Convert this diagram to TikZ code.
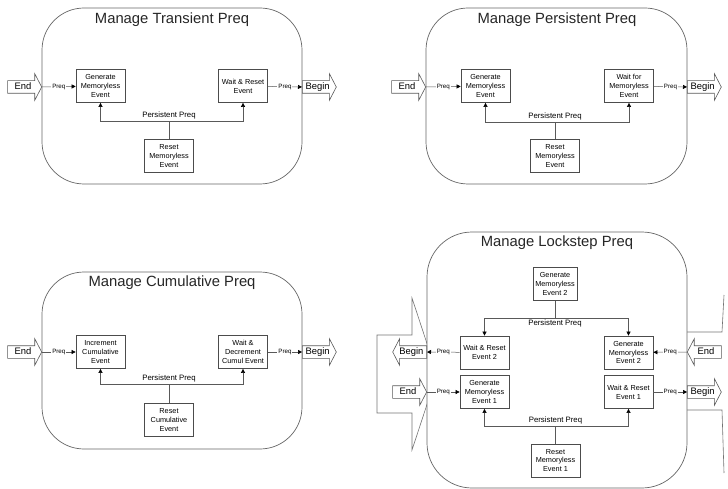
\documentclass[tikz,border=0pt]{standalone}
\usepackage{fontspec}
\setmainfont{Liberation Sans}
\usepackage{tikz}
\usetikzlibrary{arrows.meta, shapes.arrows}

\tikzstyle{panel}=[draw=black!60, line width=0.7pt, fill=white, rounded corners=42pt]
\tikzstyle{title}=[font=\fontsize{14.8}{16}\selectfont, text=black!85]
\tikzstyle{event}=[draw=black!70, line width=0.7pt, fill=white, align=center, font=\fontsize{7.3}{8.8}\selectfont, minimum width=49pt, minimum height=33pt, inner sep=1pt]
\tikzstyle{port}=[single arrow, draw=black!65, fill=white, line width=0.6pt, font=\fontsize{9.4}{10}\selectfont, text height=7pt, text depth=2pt, inner sep=1.5pt, single arrow head extend=7pt, single arrow tip angle=125, minimum height=34pt]
\tikzstyle{portleft}=[port, shape border rotate=180]
\tikzstyle{flow}=[draw=black!65, line width=0.5pt, -{Triangle[length=4pt,width=4pt,fill=black,color=black]}]
\tikzstyle{bus}=[draw=black!65, line width=0.6pt]
\tikzstyle{bigarrow}=[draw=black!55, line width=0.6pt]
\tikzstyle{wirelabel}=[font=\fontsize{6.2}{7}\selectfont, fill=white, inner sep=1pt]
\tikzstyle{buslabel}=[font=\fontsize{7.8}{9}\selectfont, inner sep=1pt]

\begin{document}
\begin{tikzpicture}[x=1pt, y=-1pt]
        \useasboundingbox (0,0) rectangle (728,489);

        %% Transient
        \draw[panel] (42,8) rectangle (302,184);
        \node[title] (titleT) at (172,20) {Manage Transient Preq};
        \node[port, anchor=tip] (endT) at (42,87) {End};
        \node[port, anchor=tail] (beginT) at (302,87) {Begin};
        \node[event] (genT) at (100.5,86) {Generate\\Memoryless\\Event};
        \node[event] (waitT) at (243,86) {Wait \& Reset\\Event};
        \node[event] (resetT) at (169,156) {Reset\\Memoryless\\Event};
        \draw[flow] (endT.tip) -- node[wirelabel] (preqT1) {Preq} (genT);
        \draw[flow] (waitT) -- node[wirelabel] (preqT2) {Preq} (beginT.tail);
        \draw[bus] (resetT.north) -- ++(0,-18) coordinate (busT);
        \draw[flow] (busT) -| (genT);
        \draw[flow] (busT) -| (waitT);
        \node[buslabel, above=1pt] (persT) at (busT) {Persistent Preq};

        %% Persistent
        \begin{scope}[shift={(384,0)}]
            \draw[panel] (42,8) rectangle (303,184);
            \node[title] (titleP) at (173,20) {Manage Persistent Preq};
            \node[port, anchor=tip] (endP) at (42,87) {End};
            \node[port, anchor=tail] (beginP) at (303,87) {Begin};
            \node[event] (genP) at (101.5,86) {Generate\\Memoryless\\Event};
            \node[event] (waitP) at (245,86) {Wait for\\Memoryless\\Event};
            \node[event] (resetP) at (171,156) {Reset\\Memoryless\\Event};
            \draw[flow] (endP.tip) -- node[wirelabel] (preqP1) {Preq} (genP);
            \draw[flow] (waitP) -- node[wirelabel] (preqP2) {Preq} (beginP.tail);
            \draw[bus] (resetP.north) -- ++(0,-17) coordinate (busP);
            \draw[flow] (busP) -| (genP);
            \draw[flow] (busP) -| (waitP);
            \node[buslabel, above=1pt] (persP) at (busP) {Persistent Preq};
        \end{scope}

        %% Cumulative
        \begin{scope}[shift={(0,265)}]
            \draw[panel] (42,7) rectangle (302,184);
            \node[title] (titleC) at (172,18) {Manage Cumulative Preq};
            \node[port, anchor=tip] (endC) at (42,87) {End};
            \node[port, anchor=tail] (beginC) at (302,87) {Begin};
            \node[event] (genC) at (100.5,87) {Increment\\Cumulative\\Event};
            \node[event] (waitC) at (243,87) {Wait \&\\Decrement\\Cumul Event};
            \node[event] (resetC) at (169,155) {Reset\\Cumulative\\Event};
            \draw[flow] (endC.tip) -- node[wirelabel] (preqC1) {Preq} (genC);
            \draw[flow] (waitC) -- node[wirelabel] (preqC2) {Preq} (beginC.tail);
            \draw[bus] (resetC.north) -- ++(0,-19) coordinate (busC);
            \draw[flow] (busC) -| (genC);
            \draw[flow] (busC) -| (waitC);
            \node[buslabel, above=1pt] (persC) at (busC) {Persistent Preq};
        \end{scope}

        %% Lockstep: outer arrows first, the panel covers their tips
        \draw[bigarrow] (412,298) -- (412,335) -- (377,335) -- (377,413) -- (412,413) -- (412,450) -- (437,374) -- cycle;
        \draw[bigarrow] (680,332) -- (722,332) -- (724,295);
        \draw[bigarrow] (680,410) -- (722,410) -- (724,473);

        \draw[panel, rounded corners=45pt] (427,232) rectangle (687,488);
        \node[title] (titleL) at (557,243) {Manage Lockstep Preq};
        \node[portleft, anchor=tail] (beginL) at (427,352) {Begin};
        \node[port, anchor=tip] (endL) at (427,392) {End};
        \node[portleft, anchor=tip] (endR) at (687,352) {End};
        \node[port, anchor=tail] (beginR) at (687,392) {Begin};

        \node[event, minimum width=44pt] (genTop) at (555,284) {Generate\\Memoryless\\Event 2};
        \node[event] (waitTwo) at (484.5,352.5) {Wait \& Reset\\Event 2};
        \node[event] (genTwo) at (628.5,352.5) {Generate\\Memoryless\\Event 2};
        \node[event] (genOne) at (484.5,392) {Generate\\Memoryless\\Event 1};
        \node[event] (waitOne) at (628.5,392) {Wait \& Reset\\Event 1};
        \node[event] (resetOne) at (555.5,460.5) {Reset\\Memoryless\\Event 1};

        \draw[flow] (waitTwo) -- node[wirelabel] (preqL1) {Preq} (beginL.tail);
        \draw[flow] (endL.tip) -- node[wirelabel] (preqL2) {Preq} (genOne);
        \draw[flow] (endR.tip) -- node[wirelabel] (preqL3) {Preq} (genTwo);
        \draw[flow] (waitOne) -- node[wirelabel] (preqL4) {Preq} (beginR.tail);

        % upper bus
        \draw[bus] (genTop.south) -- ++(0,17) coordinate (busTop);
        \draw[flow] (busTop) -| (waitTwo);
        \draw[flow] (busTop) -| (genTwo);
        \node[buslabel, below=1pt] (persTop) at (busTop) {Persistent Preq};

        % lower bus
        \draw[bus] (resetOne.north) -- ++(0,-17) coordinate (busBot);
        \draw[flow] (busBot) -| (genOne);
        \draw[flow] (busBot) -| (waitOne);
        \node[buslabel, above=1pt] (persBot) at (busBot) {Persistent Preq};

    \end{tikzpicture}
\end{document}
